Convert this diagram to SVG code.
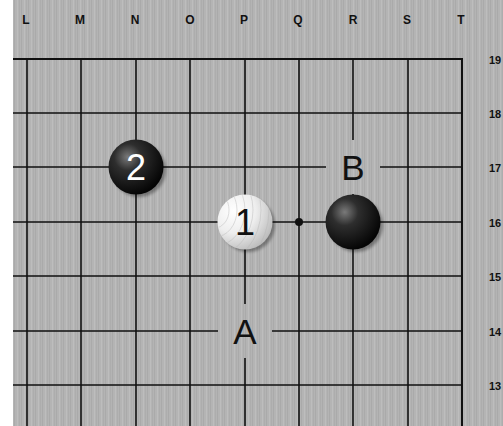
<svg xmlns="http://www.w3.org/2000/svg" width="503" height="426" viewBox="0 0 503 426">
<defs>
<pattern id="wood" patternUnits="userSpaceOnUse" width="7" height="426">
<rect width="7" height="426" fill="#b4b4b4"/>
<rect x="0" width="1" height="426" fill="#aaaaaa"/>
<rect x="3" width="1" height="426" fill="#bdbdbd"/>
<rect x="5" width="1" height="426" fill="#adadad"/>
</pattern>
<radialGradient id="blk" cx="0.35" cy="0.32" r="0.7">
<stop offset="0" stop-color="#7a7a7a"/>
<stop offset="0.35" stop-color="#2e2e2e"/>
<stop offset="1" stop-color="#050505"/>
</radialGradient>
<radialGradient id="wht" cx="0.3" cy="0.3" r="0.8">
<stop offset="0" stop-color="#ffffff"/>
<stop offset="0.5" stop-color="#eeeeee"/>
<stop offset="1" stop-color="#b8b8b8"/>
</radialGradient>
<clipPath id="wclip"><circle cx="245" cy="222" r="27"/></clipPath>
<filter id="blur" x="-20%" y="-20%" width="140%" height="140%"><feGaussianBlur stdDeviation="1.5"/></filter>
<style>
.grid{stroke:#111;stroke-width:1.6}
.edge{stroke:#111;stroke-width:2}
.col{font-family:"Liberation Sans",Arial,sans-serif;font-weight:bold;font-size:12px;fill:#111;text-anchor:middle}
.row{font-family:"Liberation Sans",Arial,sans-serif;font-weight:bold;font-size:11px;fill:#111}
.lbl{font-family:"Liberation Sans",Arial,sans-serif;font-size:35px;fill:#111;text-anchor:middle}
.num{font-family:"Liberation Sans",Arial,sans-serif;font-size:36px;text-anchor:middle}
.shadow{fill:#000;opacity:0.35;filter:url(#blur)}
</style>
</defs>
<rect width="503" height="426" fill="#ffffff"/>
<rect x="13" y="0" width="490" height="426" fill="url(#wood)"/>
<g id="columns">
<text class="col" x="26" y="24">L</text>
<text class="col" x="80" y="24">M</text>
<text class="col" x="135" y="24">N</text>
<text class="col" x="190" y="24">O</text>
<text class="col" x="244" y="24">P</text>
<text class="col" x="298" y="24">Q</text>
<text class="col" x="353" y="24">R</text>
<text class="col" x="407" y="24">S</text>
<text class="col" x="461" y="24">T</text>
</g>
<g id="rows">
<text class="row" x="489" y="64">19</text>
<text class="row" x="489" y="118">18</text>
<text class="row" x="489" y="172">17</text>
<text class="row" x="489" y="227">16</text>
<text class="row" x="489" y="281">15</text>
<text class="row" x="489" y="336">14</text>
<text class="row" x="489" y="390">13</text>
</g>
<g id="grid">
<line class="edge" x1="13" y1="59" x2="463" y2="59"/>
<line class="grid" x1="13" y1="113" x2="462" y2="113"/>
<line class="grid" x1="13" y1="167" x2="462" y2="167"/>
<line class="grid" x1="13" y1="222" x2="462" y2="222"/>
<line class="grid" x1="13" y1="276" x2="462" y2="276"/>
<line class="grid" x1="13" y1="331" x2="462" y2="331"/>
<line class="grid" x1="13" y1="385" x2="462" y2="385"/>
<line class="grid" x1="27" y1="59" x2="27" y2="426"/>
<line class="grid" x1="81" y1="59" x2="81" y2="426"/>
<line class="grid" x1="136" y1="59" x2="136" y2="426"/>
<line class="grid" x1="190" y1="59" x2="190" y2="426"/>
<line class="grid" x1="245" y1="59" x2="245" y2="426"/>
<line class="grid" x1="299" y1="59" x2="299" y2="426"/>
<line class="grid" x1="353" y1="59" x2="353" y2="426"/>
<line class="grid" x1="408" y1="59" x2="408" y2="426"/>
<line class="edge" x1="462" y1="58" x2="462" y2="426"/>
<circle cx="299" cy="222" r="4" fill="#111"/>
</g>
<g id="stone-2">
<circle class="shadow" cx="139" cy="170" r="27"/>
<circle cx="136" cy="167" r="27.5" fill="url(#blk)"/>
<text class="num" x="136" y="180" fill="#ffffff">2</text>
</g>
<g id="stone-1">
<circle class="shadow" cx="248" cy="225" r="27"/>
<circle cx="245" cy="222" r="27.5" fill="url(#wht)"/>
<g clip-path="url(#wclip)" fill="none" stroke="#b5b5b5" stroke-width="0.7" opacity="0.6">
<ellipse cx="215" cy="210" rx="14" ry="18"/>
<ellipse cx="215" cy="210" rx="22" ry="27"/>
<ellipse cx="215" cy="210" rx="30" ry="36"/>
<ellipse cx="215" cy="210" rx="38" ry="45"/>
<ellipse cx="215" cy="210" rx="46" ry="54"/>
<ellipse cx="215" cy="210" rx="54" ry="63"/>
<ellipse cx="215" cy="210" rx="62" ry="72"/>
</g>
<text class="num" x="245" y="235" fill="#111">1</text>
</g>
<g id="stone-R16">
<circle class="shadow" cx="356" cy="225" r="27"/>
<circle cx="353" cy="222" r="27.5" fill="url(#blk)"/>
</g>
<g id="label-B">
<rect x="326" y="140" width="54" height="54" fill="url(#wood)"/>
<text class="lbl" x="353" y="180">B</text>
</g>
<g id="label-A">
<rect x="218" y="304" width="54" height="54" fill="url(#wood)"/>
<text class="lbl" x="245" y="344">A</text>
</g>
</svg>
